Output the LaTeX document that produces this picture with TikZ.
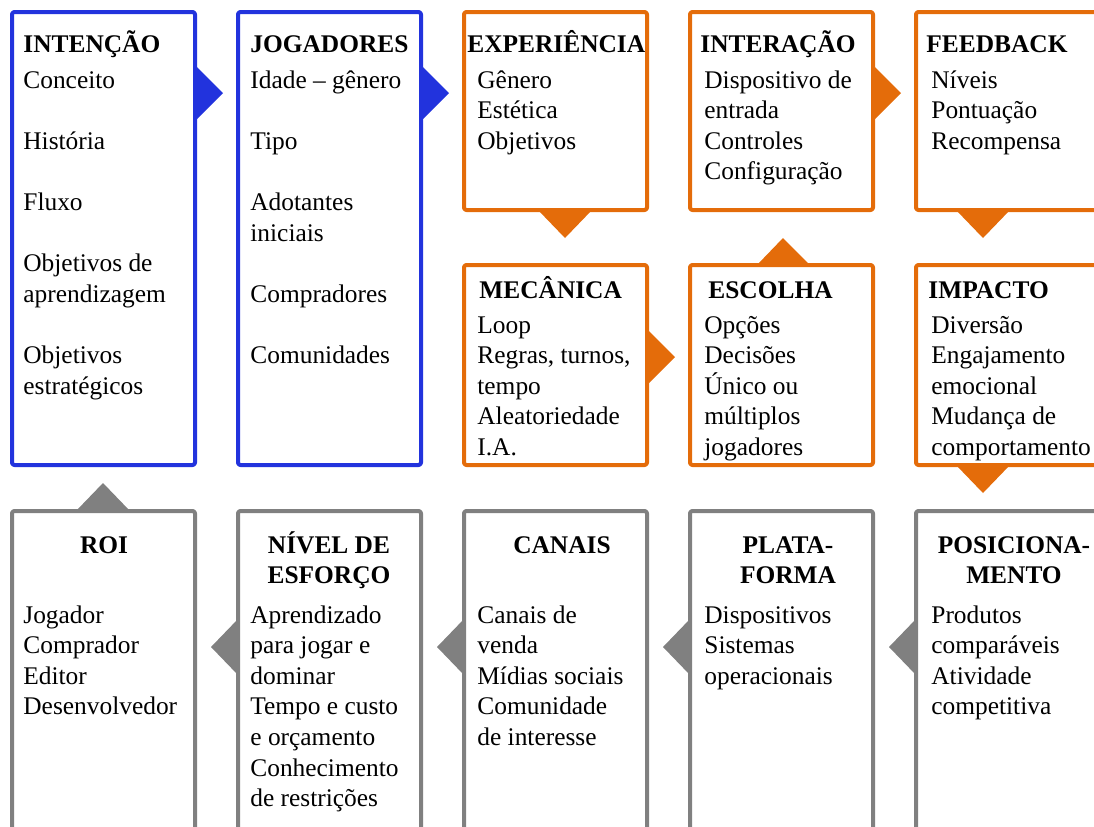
\documentclass[tikz,border=0pt]{standalone}
\usepackage{fontspec}
\setmainfont{LiberationSerif}[Extension=.ttf, UprightFont=*-Regular, BoldFont=*-Bold, ItalicFont=*-Italic, BoldItalicFont=*-BoldItalic]
\definecolor{cblue}{HTML}{2233DD}
\definecolor{corange}{HTML}{E46C0A}
\definecolor{cgray}{HTML}{808080}
\begin{document}
\begin{tikzpicture}[x=0.5pt,y=-0.5pt,
  box/.style={line width=2pt, line join=round, rounded corners=1.2pt},
  bluebox/.style={box, draw=cblue},
  orangebox/.style={box, draw=corange},
  graybox/.style={box, draw=cgray},
  txt/.style={anchor=base west, inner sep=0pt, font=\fontsize{12.7pt}{15pt}\selectfont},
  ttl/.style={anchor=base west, inner sep=0pt, font=\fontsize{12.7pt}{15pt}\selectfont\bfseries},
  cttl/.style={anchor=base, inner sep=0pt, font=\fontsize{12.7pt}{15pt}\selectfont\bfseries}]
\useasboundingbox (0,0) rectangle (1094,826);
\clip (0,0) rectangle (1094,826);
% ---- boxes
\draw[bluebox] (12,12) rectangle (195,465);
\draw[bluebox] (238,12) rectangle (421,465);
\draw[orangebox] (464,12) rectangle (647,210);
\draw[orangebox] (690,12) rectangle (873,210);
\draw[orangebox] (916,12) rectangle (1099,210);
\draw[orangebox] (464,265) rectangle (647,465);
\draw[orangebox] (690,265) rectangle (873,465);
\draw[orangebox] (916,265) rectangle (1099,465);
\draw[graybox] (12,511) rectangle (195,900);
\draw[graybox] (238,511) rectangle (421,900);
\draw[graybox] (464,511) rectangle (647,900);
\draw[graybox] (690,511) rectangle (873,900);
\draw[graybox] (916,511) rectangle (1099,900);
% ---- arrow heads
\fill[cblue] (195,65) -- (223,93) -- (195,121) -- cycle;
\fill[cblue] (421,65) -- (449,93) -- (421,121) -- cycle;
\fill[corange] (873,65) -- (901,93) -- (873,121) -- cycle;
\fill[corange] (647,329) -- (675,357) -- (647,385) -- cycle;
\fill[corange] (538,210) -- (565,238) -- (592,210) -- cycle;
\fill[corange] (956,210) -- (983,238) -- (1010,210) -- cycle;
\fill[corange] (956,465) -- (983,493) -- (1010,465) -- cycle;
\fill[corange] (757,265) -- (783,238) -- (810,265) -- cycle;
\fill[cgray] (76,511) -- (103,483) -- (130,511) -- cycle;
\fill[cgray] (238,619) -- (211,647) -- (238,675) -- cycle;
\fill[cgray] (464,619) -- (437,647) -- (464,675) -- cycle;
\fill[cgray] (690,619) -- (663,647) -- (690,675) -- cycle;
\fill[cgray] (916,619) -- (889,647) -- (916,675) -- cycle;
% ---- titles
\node[ttl] (t1) at (23,52) {INTENÇÃO};
\node[ttl] (t2) at (250,52) {JOGADORES};
\node[ttl] (t3) at (467,52) {EXPERIÊNCIA};
\node[ttl] (t4) at (700,52) {INTERAÇÃO};
\node[ttl] (t5) at (926,52) {FEEDBACK};
\node[ttl] (t6) at (479,298) {MECÂNICA};
\node[ttl] (t7) at (708,298) {ESCOLHA};
\node[ttl] (t8) at (928,298) {IMPACTO};
\node[cttl] (t9) at (104,553) {ROI};
\node[cttl] (t10a) at (329,553) {NÍVEL DE};
\node[cttl] (t10b) at (329,583) {ESFORÇO};
\node[cttl] (t11) at (562,553) {CANAIS};
\node[cttl] (t12a) at (788,553) {PLATA-};
\node[cttl] (t12b) at (788,583) {FORMA};
\node[cttl] (t13a) at (1014,553) {POSICIONA-};
\node[cttl] (t13b) at (1014,583) {MENTO};
% ---- body texts
\foreach \t [count=\i from 0] in {Conceito,{},História,{},Fluxo,{},Objetivos de,aprendizagem,{},Objetivos,estratégicos}
  \node[txt] (a\i) at (23,{88+30.6*\i}) {\t};
\foreach \t [count=\i from 0] in {Idade – gênero,{},Tipo,{},Adotantes,iniciais,{},Compradores,{},Comunidades}
  \node[txt] (b\i) at (250,{88+30.6*\i}) {\t};
\foreach \t [count=\i from 0] in {Gênero,Estética,Objetivos}
  \node[txt] (c\i) at (477,{88+30.6*\i}) {\t};
\foreach \t [count=\i from 0] in {Dispositivo de,entrada,Controles,Configuração}
  \node[txt] (d\i) at (704,{88+30.6*\i}) {\t};
\foreach \t [count=\i from 0] in {Níveis,Pontuação,Recompensa}
  \node[txt] (e\i) at (931,{88+30.6*\i}) {\t};
\foreach \t [count=\i from 0] in {Loop,{Regras, turnos,},tempo,Aleatoriedade,I.A.}
  \node[txt] (f\i) at (477,{333+30.6*\i}) {\t};
\foreach \t [count=\i from 0] in {Opções,Decisões,Único ou,múltiplos,jogadores}
  \node[txt] (g\i) at (704,{333+30.6*\i}) {\t};
\foreach \t [count=\i from 0] in {Diversão,Engajamento,emocional,Mudança de,comportamento}
  \node[txt] (h\i) at (931,{333+30.6*\i}) {\t};
\foreach \t [count=\i from 0] in {Jogador,Comprador,Editor,Desenvolvedor}
  \node[txt] (k\i) at (23,{623+30.6*\i}) {\t};
\foreach \t [count=\i from 0] in {Aprendizado,para jogar e,dominar,Tempo e custo,e orçamento,Conhecimento,de restrições}
  \node[txt] (l\i) at (250,{623+30.6*\i}) {\t};
\foreach \t [count=\i from 0] in {Canais de,venda,Mídias sociais,Comunidade,de interesse}
  \node[txt] (m\i) at (477,{623+30.6*\i}) {\t};
\foreach \t [count=\i from 0] in {Dispositivos,Sistemas,operacionais}
  \node[txt] (n\i) at (704,{623+30.6*\i}) {\t};
\foreach \t [count=\i from 0] in {Produtos,comparáveis,Atividade,competitiva}
  \node[txt] (p\i) at (931,{623+30.6*\i}) {\t};
\end{tikzpicture}
\end{document}
